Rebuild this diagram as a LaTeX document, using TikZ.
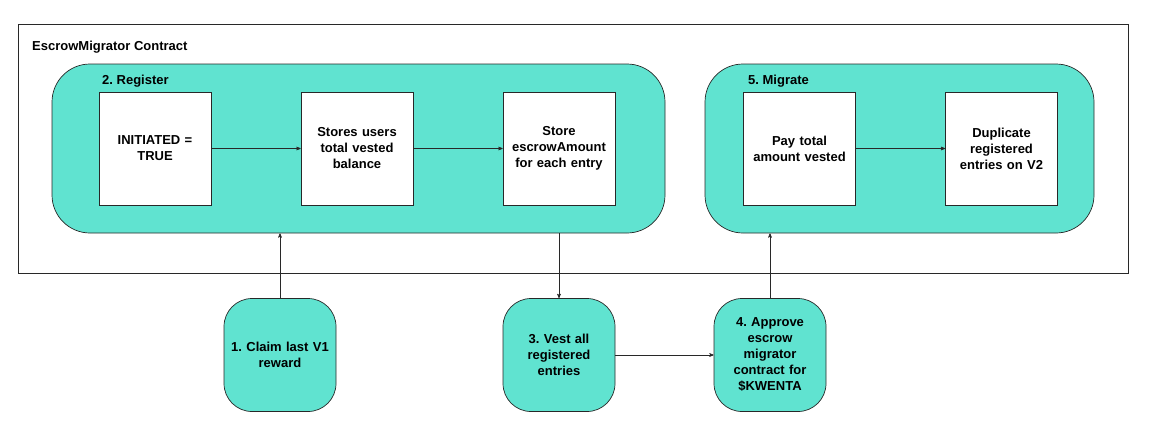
\documentclass[tikz,border=0pt]{standalone}
\usepackage{fontspec}
\setmainfont{Liberation Sans}
\usepackage{tikz}
\usetikzlibrary{arrows,calc}
\frenchspacing

\definecolor{mint}{RGB}{96,227,208}
\definecolor{edge}{RGB}{40,40,40}

\tikzset{
    lane/.style={draw=edge,fill=mint,line width=0.7pt,rounded corners=38pt,minimum width=#1,minimum height=169pt,inner sep=0pt},
    stepbox/.style={draw=edge,fill=white,line width=0.7pt,minimum width=112pt,minimum height=113pt,inner sep=2pt,align=center,text width=104pt},
    action/.style={draw=edge,fill=mint,line width=0.7pt,rounded corners=28pt,minimum width=112pt,minimum height=113pt,inner sep=2pt,align=center,text width=106pt},
    title/.style={anchor=west,inner sep=0pt},
    link/.style={draw=edge,line width=0.6pt,-stealth'}
}

\begin{document}
\begin{tikzpicture}[x=1pt,y=-1pt,font=\fontsize{13}{16}\selectfont\bfseries]
        \useasboundingbox (0, 0) rectangle (1155, 434);
        % contract frame
        \node [draw=edge,line width=0.7pt,minimum width=1110pt,minimum height=249pt,inner sep=0pt] (contract) at (573, 148.5) {};
        \node [title] at (32, 47) {EscrowMigrator Contract};
        % register lane
        \node [lane=613pt] (register) at (358.5, 148.5) {};
        \node [title] at (102, 81) {2. Register};
        \node [stepbox] (initiated) at (155, 148.5) {INITIATED =\\TRUE};
        \node [stepbox] (balance) at (357, 148.5) {Stores users\\total vested\\balance};
        \node [stepbox] (amount) at (559, 148.5) {Store\\escrowAmount\\for each entry};
        % migrate lane
        \node [lane=389pt] (migrate) at (899.5, 148.5) {};
        \node [title] at (748, 81) {5. Migrate};
        \node [stepbox] (pay) at (799.5, 148.5) {Pay total\\amount vested};
        \node [stepbox] (duplicate) at (1001.5, 148.5) {Duplicate\\registered\\entries on V2};
        % user actions
        \node [action] (claim) at (280, 355) {1. Claim last V1\\reward};
        \node [action] (vest) at (559, 355) {3. Vest all\\registered\\entries};
        \node [action] (approve) at (770, 355) {4. Approve\\escrow\\migrator\\contract for\\\$KWENTA};
        % connectors
        \draw [link] (initiated) -- (balance);
        \draw [link] (balance) -- (amount);
        \draw [link] (pay) -- (duplicate);
        \draw [link] (claim) -- (claim |- register.south);
        \draw [link] (vest.north |- register.south) -- (vest);
        \draw [link] (vest) -- (approve);
        \draw [link] (approve) -- (approve |- migrate.south);
\end{tikzpicture}
\end{document}
